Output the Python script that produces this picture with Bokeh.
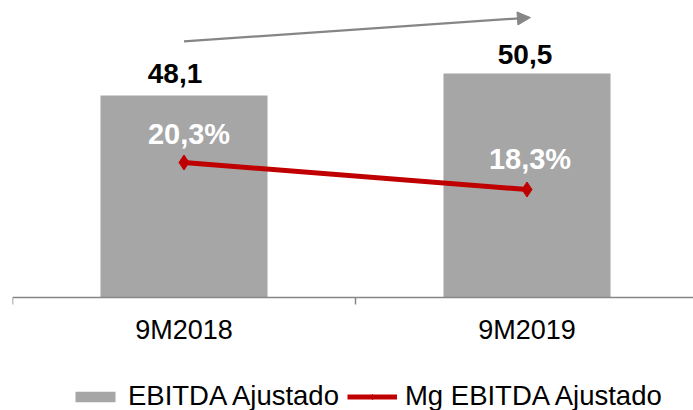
from bokeh.plotting import figure
from bokeh.models import (Range1d, FixedTicker, Legend, LegendItem, Arrow, NormalHead,
                          ColumnDataSource, CustomJSTickFormatter)
from bokeh.embed import file_html
from bokeh.resources import INLINE
from bokeh.core.properties import value
import numpy as np

# ---- data ----
categories = ["9M2018", "9M2019"]
ebitda = [48.1, 50.5]
margin = [20.3, 18.3]
ebitda_labels = ["48,1", "50,5"]
margin_labels = ["20,3%", "18,3%"]

# ---- styles / label nudges ----
ebitda_dx = [-9, -2]
ebitda_dy = [-22, -19]
margin_dx = [5, 3]
margin_dy = [-29, -31]

FONT = "Liberation Sans"
BAR = "#A6A6A6"
RED = "#C00000"
GREY = "#868686"

x = np.arange(len(categories)) + 0.5
base = 26.07              # value at the category axis line
y_lo, y_hi = 13.75, 58.46  # visible range of the bar axis
m_lo, m_hi = 1.93, 32.3    # visible range of the margin axis

src = ColumnDataSource(dict(x=x, ebitda=ebitda, margin=margin,
                            el=ebitda_labels, ml=margin_labels,
                            edx=ebitda_dx, edy=ebitda_dy, mdx=margin_dx, mdy=margin_dy))

p = figure(width=693, height=410, output_backend="svg", toolbar_location=None,
           x_range=Range1d(0, 681 / 343), y_range=Range1d(y_lo, y_hi),
           y_axis_location=None,
           min_border_left=12, min_border_right=0, min_border_top=0, min_border_bottom=0)
p.extra_y_ranges = {"mg": Range1d(m_lo, m_hi)}
p.outline_line_color = None
p.xgrid.visible = False
p.ygrid.visible = False
p.background_fill_color = "white"
p.border_fill_color = "white"

bars = p.vbar(x="x", top="ebitda", bottom=base, width=0.487, source=src,
              fill_color=BAR, line_color=None)

line = p.line(x="x", y="margin", source=src, y_range_name="mg",
              line_color=RED, line_width=5)
pts = p.scatter(x="x", y="margin", source=src, y_range_name="mg",
                marker="diamond", size=15, fill_color=RED, line_color=RED)

p.text(x="x", y="ebitda", text="el", source=src, x_offset="edx", y_offset="edy",
       text_font=value(FONT), text_font_style="bold", text_font_size="28px",
       text_color="black", text_align="center", text_baseline="alphabetic")

p.text(x="x", y="margin", text="ml", source=src, y_range_name="mg",
       x_offset="mdx", y_offset="mdy",
       text_font=value(FONT), text_font_style="bold", text_font_size="29px",
       text_color="white", text_align="center", text_baseline="alphabetic")

p.add_layout(Arrow(end=NormalHead(size=13, fill_color=GREY, line_color=GREY),
                   x_start=x[0], y_start=54.0, x_end=x[1] + 0.01, y_end=56.6,
                   line_color=GREY, line_width=2.2))

ax = p.xaxis[0]
ax.fixed_location = base
ax.ticker = FixedTicker(ticks=list(x), minor_ticks=[0, 1, 2])
ax.formatter = CustomJSTickFormatter(args=dict(labels=categories),
                                     code="return labels[Math.floor(tick)];")
ax.major_tick_out = 0
ax.major_tick_in = 0
ax.minor_tick_out = 7
ax.minor_tick_in = 0
ax.minor_tick_line_color = GREY
ax.minor_tick_line_width = 1.5
ax.axis_line_color = GREY
ax.axis_line_width = 1.5
ax.major_label_text_font = FONT
ax.major_label_text_font_size = "27px"
ax.major_label_text_color = "black"
ax.major_label_standoff = 10

legend = Legend(items=[LegendItem(label="EBITDA Ajustado", renderers=[bars]),
                       LegendItem(label="Mg EBITDA Ajustado", renderers=[line, pts])],
                orientation="horizontal", location=(58, -2),
                border_line_color=None, background_fill_alpha=0,
                label_text_font=FONT, label_text_font_size="27.5px", label_text_color="black",
                glyph_width=50, glyph_height=13, label_standoff=8, spacing=8,
                padding=0, margin=0)
p.add_layout(legend)

open("out.html", "w").write(file_html(p, INLINE))
